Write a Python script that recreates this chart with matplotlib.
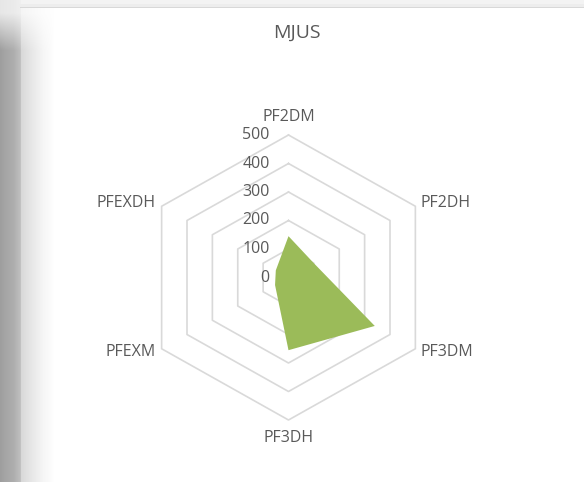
import numpy as np
import matplotlib
matplotlib.use("Agg")
import matplotlib.pyplot as plt

categories = ["PF2DM", "PF2DH", "PF3DM", "PF3DH", "PFEXM", "PFEXDH"]
values = [145, 100, 340, 255, 53, 50]
rings = [0, 100, 200, 300, 400, 500]
title = "MJUS"

W, H = 584, 482
cx, cy = 288.5, 277.5            # radar centre in pixels
sx, sy = 146.5 / 500, 142.5 / 500  # pixels per unit (slightly wider than tall)

text_col = "#595959"
grid_col = "#d9d9d9"
fill_col = "#9bbb59"
plt.rcParams["font.family"] = ["Open Sans", "DejaVu Sans"]

fig = plt.figure(figsize=(W / 100, H / 100), dpi=100)

# window shadow and frame behind the chart area
x = np.arange(W)
y = np.arange(H)
shade = np.interp(x, [0, 5, 13, 17, 19, 20, 21, 28, 36, 43, 50, 54],
                  [0.62, 0.65, 0.68, 0.72, 0.74, 0.76, 0.85, 0.89, 0.93, 0.965, 0.985, 1.0])
fade = np.clip(y / 50.0, 0.25, 1.0)
bg = 1 - (1 - shade)[None, :] * fade[:, None]
bg[:4, :] = np.minimum(bg[:4, :], 0.955)
bg[4:7, :] = np.minimum(bg[4:7, :], 0.93)
bg[7, 20:] = 0.85
img = np.dstack([bg, bg, bg])
bg_ax = fig.add_axes([0, 0, 1, 1], zorder=0)
bg_ax.imshow(img, aspect="auto", interpolation="nearest")
bg_ax.axis("off")

ax = fig.add_axes([0, 0, 1, 1], zorder=1)
ax.patch.set_visible(False)
ax.set_xlim(-cx / sx, (W - cx) / sx)
ax.set_ylim(-(H - cy) / sy, cy / sy)
ax.axis("off")

n = len(categories)
angles = np.pi / 2 - 2 * np.pi * np.arange(n) / n
ca, sa = np.cos(angles), np.sin(angles)

# hexagonal gridlines
for r in rings[1:]:
    ax.plot(np.append(r * ca, r * ca[0]), np.append(r * sa, r * sa[0]),
            color=grid_col, lw=1.2, zorder=1)

# data polygon
v = np.array(values, dtype=float)
ax.fill(v * ca, v * sa, color=fill_col, lw=0, zorder=2)

# ring values along the top axis
for r in rings:
    ax.annotate(str(r), (0, r), xytext=(-13.5, 0), textcoords="offset points",
                ha="right", va="center", fontsize=11.5, color=text_col, zorder=3)

# category labels just outside the outer ring
rmax = rings[-1]
for lab, c, s in zip(categories, ca, sa):
    if abs(c) < 0.1:
        off = (0, 13 * np.sign(s))
        ha = "center"
    else:
        off = (4 * np.sign(c), 2 * np.sign(s))
        ha = "left" if c > 0 else "right"
    ax.annotate(lab, (rmax * c, rmax * s), xytext=off, textcoords="offset points",
                ha=ha, va="center", fontsize=11.5, color=text_col)

fig.text(297 / W, 1 - 32.5 / H, title, ha="center", va="center",
         fontsize=14, color=text_col)

fig.savefig("out.png", dpi=100)
